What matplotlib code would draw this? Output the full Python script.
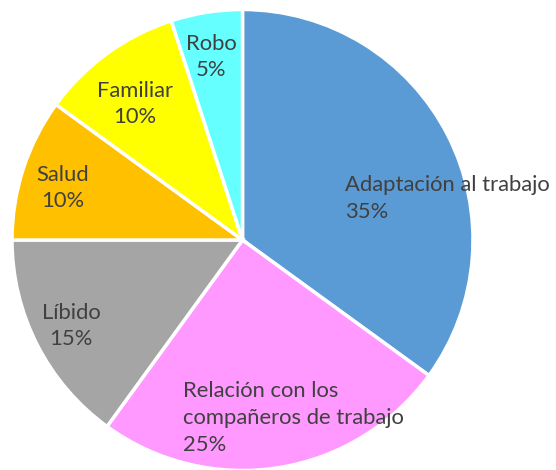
import matplotlib.pyplot as plt

labels = ["Adaptación al trabajo", "Relación con los\ncompañeros de trabajo",
          "Líbido", "Salud", "Familiar", "Robo"]
values = [35, 25, 15, 10, 10, 5]
colors = ["#5B9BD5", "#FF99FF", "#A5A5A5", "#FFC000", "#FFFF00", "#66FFFF"]

# where each label sits (data units, pie radius = 1) and how it is aligned
label_pos = [(0.445, 0.18), (-0.258, -0.772), (-0.744, -0.373),
             (-0.779, 0.226), (-0.466, 0.59), (-0.137, 0.794)]
label_ha = ["left", "left", "center", "center", "center", "center"]

plt.rcParams["font.family"] = ["Lato", "DejaVu Sans"]

fig = plt.figure(figsize=(5.56, 4.70), dpi=100)
ax = fig.add_axes([12 / 556, -0.5 / 470, 461 / 556, 461 / 470])

ax.pie(values, colors=colors, startangle=90, counterclock=False,
       wedgeprops=dict(edgecolor="white", linewidth=2.5))

for lab, v, (x, y), ha in zip(labels, values, label_pos, label_ha):
    ax.text(x, y, f"{lab}\n{v}%", ha=ha, va="center", multialignment=ha,
            fontsize=15.8, color="#404040", linespacing=1.42)

ax.set_xlim(-1, 1)
ax.set_ylim(-1, 1)
ax.set_aspect("equal")
ax.axis("off")

plt.savefig("out.png", dpi=100)
